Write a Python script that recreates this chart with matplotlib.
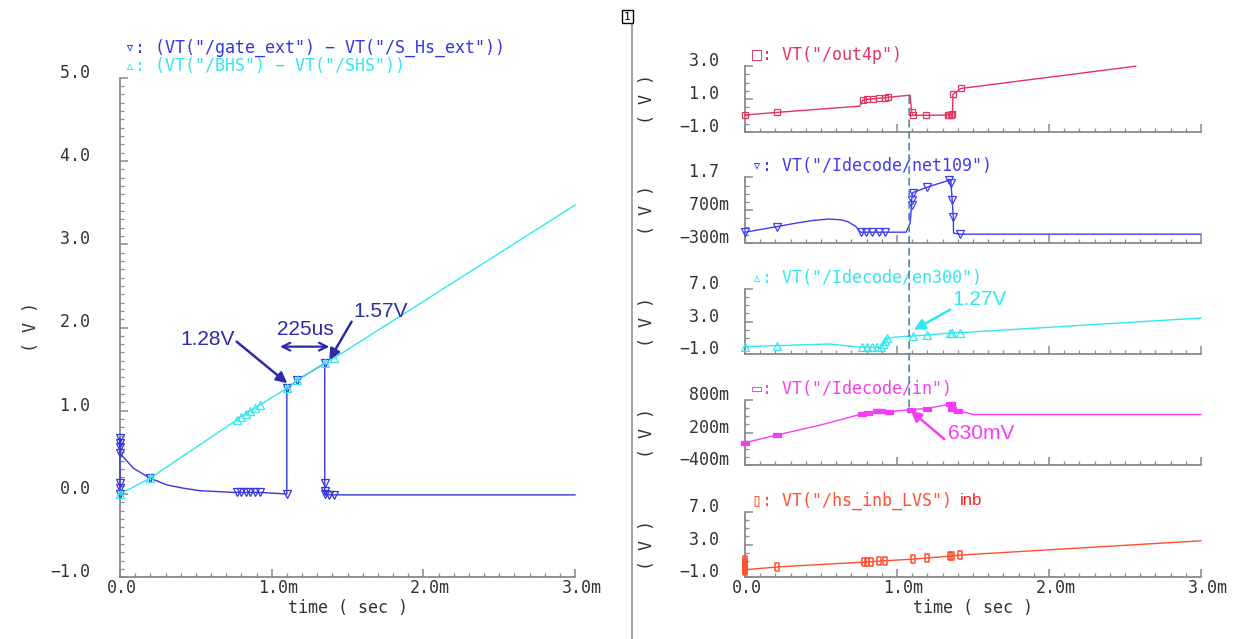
import matplotlib
matplotlib.use('Agg')
import numpy as np
import matplotlib.pyplot as plt
from matplotlib.transforms import blended_transform_factory, ScaledTranslation
from matplotlib.patches import ConnectionPatch
from matplotlib.lines import Line2D

# ---------------- data (time in ms, values in V) ----------------
GATE_T = [0, 0, 0, 0, 0, 0, 0, 0.088, 0.198, 0.308, 0.418, 0.527, 0.747, 0.77, 0.80, 0.83, 0.86, 0.89, 0.92,
          1.10, 1.10, 1.17, 1.35, 1.35, 1.35, 1.35, 1.38, 1.41, 3.0]
GATE_V = [0.0, 0.07, 0.13, 0.67, 0.61, 0.57, 0.49, 0.31, 0.19, 0.11, 0.07, 0.04, 0.02, 0.02, 0.02, 0.02, 0.02, 0.02, 0.02,
          0.0, 1.27, 1.37, 1.57, 0.13, 0.04, 0.0, -0.01, -0.01, -0.01]
GATE_MARK = [0, 1, 2, 3, 4, 5, 6, 8, 13, 14, 15, 16, 17, 18, 19, 20, 21, 22, 23, 24, 25, 26, 27]

BHS_T = [0, 0.198, 0.77, 0.80, 0.83, 0.86, 0.89, 0.92, 1.10, 1.17, 1.35, 1.41, 3.0]
BHS_V = [0.0, 0.19, 0.89, 0.93, 0.96, 1.0, 1.03, 1.07, 1.27, 1.37, 1.57, 1.63, 3.47]
BHS_MARK = list(range(12))

OUT4P_T = [0.0, 0.21, 0.755, 0.776, 0.80, 0.84, 0.88, 0.92, 0.94, 1.086, 1.096, 1.104, 1.19, 1.335, 1.345,
           1.355, 1.365, 1.368, 1.42, 2.57]
OUT4P_V = [0.02, 0.18, 0.56, 0.93, 0.97, 1.0, 1.04, 1.07, 1.1, 1.23, 0.22, 0.0, 0.0, 0.02, 0.04,
           0.05, 0.06, 1.28, 1.64, 3.0]
OUT4P_MARK = [0, 1, 3, 4, 5, 6, 7, 8, 10, 11, 12, 13, 14, 15, 16, 17, 18]

NET_T = [0.0, 0.21, 0.34, 0.45, 0.548, 0.63, 0.678, 0.73, 0.76, 0.794, 0.833, 0.884, 0.923, 1.06, 1.086,
         1.096, 1.096, 1.104, 1.195, 1.345, 1.355, 1.363, 1.37, 1.372, 1.415, 3.0]
NET_V = [0.03, 0.20, 0.31, 0.39, 0.43, 0.41, 0.35, 0.2, 0.03, 0.03, 0.03, 0.03, 0.03, 0.03, 0.3,
         0.86, 1.01, 1.24, 1.40, 1.62, 1.54, 1.01, 0.50, 0.0, -0.03, -0.03]
NET_MARK = [0, 1, 8, 9, 10, 11, 12, 15, 16, 17, 18, 19, 20, 21, 22, 24]

EN_T = [0.0, 0.21, 0.55, 0.768, 0.80, 0.833, 0.871, 0.897, 0.91, 0.923, 0.936, 0.988, 1.104, 1.195, 1.35,
        1.363, 1.415, 3.0]
EN_V = [-0.07, 0.06, 0.26, -0.14, -0.14, -0.14, -0.14, -0.10, 0.22, 0.66, 0.95, 1.10, 1.24, 1.36, 1.60,
        1.62, 1.64, 3.43]
EN_MARK = [0, 1, 3, 4, 5, 6, 7, 8, 9, 10, 12, 13, 14, 15, 16]

IN_T = [0.0, 0.21, 0.50, 0.768, 0.807, 0.871, 0.897, 0.949, 1.09, 1.195, 1.35, 1.358, 1.363, 1.40, 1.505, 3.0]
IN_V = [0.014, 0.155, 0.34, 0.54, 0.56, 0.59, 0.59, 0.58, 0.62, 0.64, 0.72, 0.72, 0.64, 0.60, 0.53, 0.53]
IN_MARK = [0, 1, 3, 4, 5, 6, 7, 8, 9, 10, 11, 12, 13]

INB_T = [0, 0, 0, 0, 0, 0, 0.21, 0.78, 0.80, 0.83, 0.88, 0.92, 1.104, 1.195, 1.35, 1.363, 1.415, 3.0]
INB_V = [1.1, 0.75, 0.4, 0.1, -0.25, -0.08, 0.26, 0.86, 0.88, 0.9, 0.98, 1.02, 1.22, 1.35, 1.59, 1.62, 1.71, 3.46]
INB_MARK = list(range(17))

LEFT_LEGEND = ['\u25bf: (VT("/gate_ext") \u2212 VT("/S_Hs_ext"))', '\u25b5: (VT("/BHS") \u2212 VT("/SHS"))']
PANEL_LEGENDS = ['\u25a1: VT("/out4p")', '\u25bf: VT("/Idecode/net109")', '\u25b5: VT("/Idecode/en300")',
                 '\u25ad: VT("/Idecode/in")', '\u25af: VT("/hs_inb_LVS")']
PANEL_SUFFIX = 'inb'

X_TICKS = [0.0, 1.0, 2.0, 3.0]
X_LABELS = ['0.0', '1.0m', '2.0m', '3.0m']
LEFT_YTICKS = [-1.0, 0.0, 1.0, 2.0, 3.0, 4.0, 5.0]
LEFT_YLABELS = ['\u22121.0', ' 0.0', ' 1.0', ' 2.0', ' 3.0', ' 4.0', ' 5.0']
PANEL_YTICKS = [[-1.0, 1.0, 3.0], [-0.3, 0.7, 1.7], [-1.0, 3.0, 7.0], [-0.4, 0.2, 0.8], [-1.0, 3.0, 7.0]]
PANEL_YLABELS = [['\u22121.0', ' 1.0', ' 3.0'], ['\u2212300m', ' 700m', ' 1.7'], ['\u22121.0', ' 3.0', ' 7.0'],
                 ['\u2212400m', ' 200m', ' 800m'], ['\u22121.0', ' 3.0', ' 7.0']]

CURSOR_T = 1.08
CURSOR_TOP_V = 1.14
CURSOR_BOT_V = 0.56

# ---------------- styling ----------------
W, H, DPI = 1236, 639, 100
MONO = ['DejaVu Sans Mono', 'DejaVu Sans']
SANS = ['Liberation Sans', 'DejaVu Sans']
SPINE = '#8a8a8a'
TXT = '#333333'
C_BLUE = '#3535dd'
C_CYAN = '#30e8ee'
C_NAVY = '#2b2ba8'
C_OUT = '#e3335f'
C_NET = '#3c3cf5'
C_IN = '#f83cf5'
C_INB = '#ff4f2e'
C_CURSOR = '#4a8fa8'

fig = plt.figure(figsize=(W / DPI, H / DPI), dpi=DPI)
fig.patch.set_facecolor('white')


def px_axes(l, t, r, b):
    return fig.add_axes([l / W, 1 - b / H, (r - l) / W, (b - t) / H])


def off(dx, dy):
    return ScaledTranslation(dx / DPI, dy / DPI, fig.dpi_scale_trans)


def style(ax, ylim, yticks, ylabels, yminor_n, ylab_dx, vlab_dx, show_x):
    ax.set_xlim(0, 3.0)
    ax.set_ylim(*ylim)
    ax.patch.set_alpha(0)
    for s in ['top', 'right']:
        ax.spines[s].set_visible(False)
    for s in ['left', 'bottom']:
        ax.spines[s].set_color(SPINE)
        ax.spines[s].set_linewidth(1.3)
    ax.set_xticks(X_TICKS)
    ax.set_xticks(np.linspace(0, 3.0, 31), minor=True)
    ax.set_yticks(yticks)
    ax.set_yticks(np.linspace(ylim[0], ylim[1], yminor_n + 1), minor=True)
    ax.tick_params(which='major', direction='in', length=5.5, width=1.1, color=SPINE,
                   labelleft=False, labelbottom=False)
    ax.tick_params(which='minor', direction='in', length=2.6, width=0.9, color=SPINE)
    tr_y = blended_transform_factory(ax.transAxes, ax.transData) + off(ylab_dx, 5)
    for v, lab in zip(yticks, ylabels):
        ax.text(0, v, lab, transform=tr_y, ha='left', va='center', fontsize=12, family=MONO, color=TXT)
    ax.text(0, 0.5, '( V )', transform=ax.transAxes + off(vlab_dx, 0), rotation=90,
            ha='center', va='center', fontsize=12, family=MONO, color=TXT)
    if show_x:
        tr_x = blended_transform_factory(ax.transData, ax.transAxes) + off(-13.5, -11)
        for t, lab in zip(X_TICKS, X_LABELS):
            ax.text(t, 0, lab, transform=tr_x, ha='left', va='center', fontsize=12, family=MONO, color=TXT)
        ax.text(0.5, 0, 'time ( sec )', transform=ax.transAxes + off(0, -31), ha='center', va='center',
                fontsize=12, family=MONO, color=TXT)


def trace(ax, t, v, color, marker, mark, ms=5, mfc='none', mew=0.9):
    ax.plot(t, v, color=color, lw=1.0, marker=marker, markevery=mark, ms=ms, mfc=mfc,
            mec=color, mew=mew, clip_on=False, zorder=3)


# ---------------- left plot ----------------
axL = px_axes(120, 77.7, 575, 577.3)
style(axL, (-1.0, 5.0), LEFT_YTICKS, LEFT_YLABELS, 60, -70, -89, True)
trace(axL, GATE_T, GATE_V, C_BLUE, 'v', GATE_MARK, ms=5.5)
trace(axL, BHS_T, BHS_V, C_CYAN, '^', BHS_MARK, ms=5.5)
axL.text(0, 1, LEFT_LEGEND[0], transform=axL.transAxes + off(5, 29.5), ha='left', va='center',
         fontsize=12, family=MONO, color=C_BLUE)
axL.text(0, 1, LEFT_LEGEND[1], transform=axL.transAxes + off(5, 11.5), ha='left', va='center',
         fontsize=12, family=MONO, color=C_CYAN)

arrow_kw = dict(arrowstyle='-|>', color=C_NAVY, lw=1.8, mutation_scale=16, shrinkA=0, shrinkB=0)
axL.annotate('', xy=(1.103, 1.33), xytext=(0.769, 1.83), arrowprops=arrow_kw, annotation_clip=False)
axL.text(0.58, 1.85, '1.28V', ha='center', va='center', fontsize=15, family=SANS, color=C_NAVY)
axL.annotate('', xy=(1.38, 1.61), xytext=(1.527, 2.07), arrowprops=arrow_kw, annotation_clip=False)
axL.text(1.536, 2.19, '1.57V', ha='left', va='center', fontsize=15, family=SANS, color=C_NAVY)
axL.annotate('', xy=(1.38, 1.77), xytext=(1.055, 1.77),
             arrowprops=dict(arrowstyle='<->', color=C_NAVY, lw=1.6, mutation_scale=14, shrinkA=0, shrinkB=0))
axL.text(1.225, 1.98, '225us', ha='center', va='center', fontsize=15, family=SANS, color=C_NAVY)

# ---------------- right panels ----------------
bottoms = [131.7, 243.0, 354.3, 465.3, 577.3]
ph = 65.5
ylims = [(-1.0, 3.0), (-0.3, 1.7), (-1.0, 7.0), (-0.4, 0.8), (-1.0, 7.0)]
axes = []
for i, b in enumerate(bottoms):
    ax = px_axes(745, b - ph, 1201, b)
    style(ax, ylims[i], PANEL_YTICKS[i], PANEL_YLABELS[i], 8, -66, -98, i == 4)
    axes.append(ax)

rect_h = [(-1.6, -0.7), (1.6, -0.7), (1.6, 0.7), (-1.6, 0.7), (-1.6, -0.7)]
rect_v = [(-0.7, -1.6), (0.7, -1.6), (0.7, 1.6), (-0.7, 1.6), (-0.7, -1.6)]

trace(axes[0], OUT4P_T, OUT4P_V, C_OUT, 's', OUT4P_MARK, ms=4.5)
trace(axes[1], NET_T, NET_V, C_NET, 'v', NET_MARK, ms=5.5)
trace(axes[2], EN_T, EN_V, C_CYAN, '^', EN_MARK, ms=5.5)
trace(axes[3], IN_T, IN_V, C_IN, rect_h, IN_MARK, ms=6, mfc=C_IN)
trace(axes[4], INB_T, INB_V, C_INB, rect_v, INB_MARK, ms=6, mew=1.1)

leg_colors = [C_OUT, C_NET, C_CYAN, C_IN, C_INB]
for ax, lab, col in zip(axes, PANEL_LEGENDS, leg_colors):
    t_obj = ax.text(0, 1, lab, transform=ax.transAxes + off(7, 11), ha='left', va='center',
                    fontsize=12, family=MONO, color=col)
axes[4].annotate(PANEL_SUFFIX, xy=(1, 0.5), xycoords=t_obj, xytext=(6, 0), textcoords='offset points',
                 ha='left', va='center', fontsize=12, family=SANS, color='#ff1a1a')

# cursor line
con = ConnectionPatch(xyA=(CURSOR_T, CURSOR_TOP_V), coordsA=axes[0].transData,
                      xyB=(CURSOR_T, CURSOR_BOT_V), coordsB=axes[3].transData,
                      color=C_CURSOR, lw=1.2, linestyle=(0, (4, 3)), zorder=5)
fig.add_artist(con)

# right annotations
axes[2].annotate('', xy=(1.112, 1.99), xytext=(1.35, 4.45),
                 arrowprops=dict(arrowstyle='-|>', color=C_CYAN, lw=1.8, mutation_scale=16, shrinkA=0, shrinkB=0),
                 annotation_clip=False)
axes[2].text(1.363, 5.7, '1.27V', ha='left', va='center', fontsize=15, family=SANS, color=C_CYAN)
axes[3].annotate('', xy=(1.09, 0.60), xytext=(1.311, 0.08),
                 arrowprops=dict(arrowstyle='-|>', color=C_IN, lw=1.8, mutation_scale=16, shrinkA=0, shrinkB=0),
                 annotation_clip=False)
axes[3].text(1.337, 0.19, '630mV', ha='left', va='center', fontsize=15, family=SANS, color=C_IN)

# separator and page marker
fig.add_artist(Line2D([632 / W, 632 / W], [1 - 22 / H, 0], transform=fig.transFigure, color='#9a9a9a', lw=1.3))
fig.text(627.5 / W, 1 - 16.5 / H, '1', ha='center', va='center', fontsize=8, family=MONO, color='black',
         bbox=dict(boxstyle='square,pad=0.15', fc='white', ec='black', lw=1.0))

fig.savefig('out.png', dpi=DPI, facecolor='white')
